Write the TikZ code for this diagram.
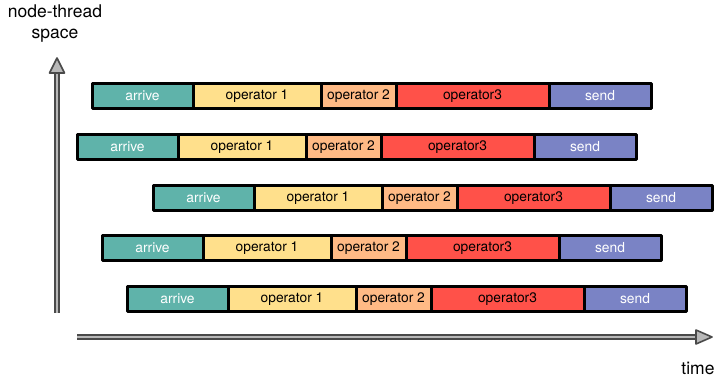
\documentclass[tikz,border=0pt]{standalone}
\usepackage{fontspec}
\setmainfont{TeX Gyre Heros}
\definecolor{cArrive}{HTML}{5FB3AA}
\definecolor{cOpA}{HTML}{FFE08C}
\definecolor{cOpB}{HTML}{FFBA85}
\definecolor{cOpC}{HTML}{FF5149}
\definecolor{cSend}{HTML}{7A83C5}
\definecolor{axdark}{HTML}{4A4A4A}
\definecolor{axlight}{HTML}{B8B8B8}
\begin{document}
\begin{tikzpicture}[x=1pt,y=-1pt,
  seg/.style={draw=black,line width=3pt,line join=round,minimum height=25.5pt,inner sep=0pt,outer sep=0pt,anchor=west,font=\fontsize{13.8}{16}\selectfont},
  segarrive/.style={seg,fill=cArrive,text=white,minimum width=101pt},
  segopa/.style={seg,fill=cOpA,minimum width=128pt},
  segopb/.style={seg,fill=cOpB,minimum width=75pt},
  segopc/.style={seg,fill=cOpC,minimum width=153pt},
  segsend/.style={seg,fill=cSend,text=white,minimum width=102pt},
  axshaft/.style={draw=axdark,line width=6pt,postaction={draw=axlight,line width=2pt}},
  axhead/.style={fill=axlight,draw=axdark,line width=1.6pt,line join=round},
  axlabel/.style={font=\fontsize{17.5}{21}\selectfont,align=center,inner sep=0pt}]
\useasboundingbox (0,0) rectangle (718,377);
% axes
\coordinate (vbot) at (57,313);
\coordinate (vtop) at (57,72);
\coordinate (hleft) at (77,337);
\coordinate (hright) at (697,337);
\draw[axshaft] (vbot) -- (vtop);
\draw[axhead] (57,58) -- (64.5,73) -- (49.5,73) -- cycle;
\draw[axshaft] (hleft) -- (hright);
\draw[axhead] (712,337) -- (696,330) -- (696,344) -- cycle;
\node[axlabel] (ylab) at (55,24) {node-thread\\space};
\node[axlabel] (xlab) at (698,368) {time};
% rows
\foreach \i/\sx/\sy in {1/92/96, 2/77/147, 3/153/198, 4/102/248, 5/127/299}{
  \node[segarrive] (a\i) at (\sx,\sy) {arrive};
  \node[segopa] (b\i) at (a\i.east) {operator 1};
  \node[segopb] (c\i) at (b\i.east) {operator 2};
  \node[segopc] (d\i) at (c\i.east) {operator3};
  \node[segsend] (e\i) at (d\i.east) {send};
}
\end{tikzpicture}
\end{document}
